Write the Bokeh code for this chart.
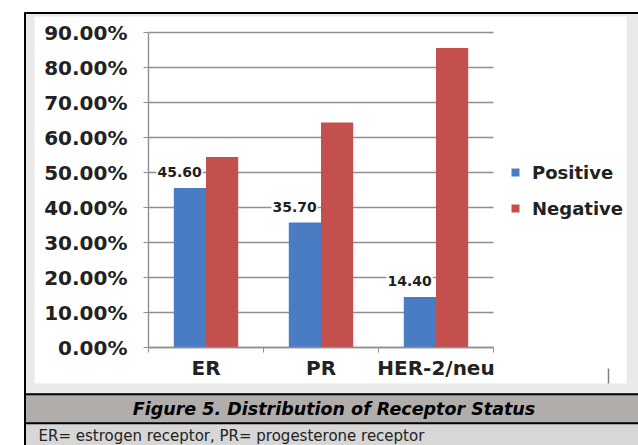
from bokeh.plotting import figure
from bokeh.models import (Range1d, FixedTicker, PrintfTickFormatter, LinearAxis,
                          Label, Legend, LegendItem, ColumnDataSource)
from bokeh.transform import dodge
from bokeh.core.properties import value
from bokeh.embed import file_html
from bokeh.resources import INLINE

# ---- data ----
categories = ["ER", "PR", "HER-2/neu"]
positive = [45.6, 35.7, 14.4]
negative = [54.4, 64.3, 85.6]
positive_labels = ["45.60", "35.70", "14.40"]
series_names = ["Positive", "Negative"]
y_ticks = [0, 10, 20, 30, 40, 50, 60, 70, 80, 90]
caption_text = "Figure 5. Distribution of Receptor Status"
footnote_text = "ER= estrogen receptor, PR= progesterone receptor"

# ---- layout (pixels, top-left origin) ----
W, H = 638, 445
PL, PR_, PT, PB = 148, 493, 32, 347      # plot area edges
Y_MAX = 90
N = len(categories)

FONT = "DejaVu Sans"
BLUE = "#4a7cc4"
RED = "#c4504d"
GRID = "#8f8f8f"

p = figure(width=W, height=H, output_backend="svg", toolbar_location=None, title=None,
           x_range=Range1d(0, W), y_range=Range1d(H, 0),
           x_axis_location=None, y_axis_location=None,
           min_border=0, min_border_left=0, min_border_right=0,
           min_border_top=0, min_border_bottom=0,
           background_fill_color="white", border_fill_color="white",
           outline_line_color=None)
p.grid.visible = False

# chart ranges mapped onto the plot area
px_per_cat = (PR_ - PL) / N
cs = -PL / px_per_cat
px_per_pct = (PB - PT) / Y_MAX
ps = -(H - PB) / px_per_pct
p.extra_x_ranges = {"cat": Range1d(cs, cs + W / px_per_cat)}
p.extra_y_ranges = {"pct": Range1d(ps, ps + H / px_per_pct)}

# ---- decorations (page frame) ----
MARGIN = "#e9e9e9"
deco = dict(
    left=[24, 24, 626, 24, 24, 24],
    right=[W, 34, W, W, W, W],
    top=[12, 12, 12, 383, 394, 423],
    bottom=[16, 394, 394, 394, 423, H],
    color=[MARGIN, MARGIN, MARGIN, MARGIN, "#b1adab", "#d7d7d7"],
)
p.quad(left="left", right="right", top="top", bottom="bottom", color="color",
       source=ColumnDataSource(deco), line_color=None)
lines = dict(
    left=[24, 23.5, 24, 24],
    right=[W, 25.5, W, W],
    top=[11.5, 12, 392.8, 421.8],
    bottom=[13.5, H, 394.8, 423.8],
)
p.quad(left="left", right="right", top="top", bottom="bottom",
       source=ColumnDataSource(lines), color="black", line_color=None)
p.segment(x0=[608], x1=[608], y0=[368], y1=[383], line_color="#808080", line_width=1.5)

# ---- gridlines ----
p.segment(x0=0, x1=N, y0=y_ticks, y1=y_ticks, x_range_name="cat", y_range_name="pct",
          line_color=GRID, line_width=1.4)

# ---- bars ----
xc = [i + 0.5 for i in range(N)]
src = ColumnDataSource(dict(x=xc, pos=positive, neg=negative, lbl=positive_labels))
r_pos = p.vbar(x=dodge("x", -0.14), top="pos", bottom=0, width=0.28, source=src,
               fill_color=BLUE, line_color=None, x_range_name="cat", y_range_name="pct")
r_neg = p.vbar(x=dodge("x", 0.14), top="neg", bottom=0, width=0.28, source=src,
               fill_color=RED, line_color=None, x_range_name="cat", y_range_name="pct")

p.text(x=dodge("x", -0.23), y="pos", text="lbl", source=src,
       x_range_name="cat", y_range_name="pct",
       y_offset=-16, text_align="center", text_baseline="middle",
       text_font=value(FONT), text_font_style="bold", text_font_size="14px",
       text_color="#1e1e1e", background_fill_color="white", padding=1)

# ---- axes ----
xa = LinearAxis(x_range_name="cat", y_range_name="pct", fixed_location=0, bounds=(0, N),
                ticker=FixedTicker(ticks=xc, minor_ticks=list(range(N + 1))))
xa.major_label_overrides = {x: c for x, c in zip(xc, categories)}
xa.major_tick_line_color = None
xa.major_tick_in = 0
xa.major_tick_out = 0
xa.minor_tick_in = 0
xa.minor_tick_out = 5
xa.minor_tick_line_color = GRID
xa.axis_line_color = GRID
xa.axis_line_width = 1.4
xa.major_label_standoff = 3
xa.major_label_text_font = FONT
xa.major_label_text_font_style = "bold"
xa.major_label_text_font_size = "20px"
xa.major_label_text_color = "#222222"
p.add_layout(xa, "below")

ya = LinearAxis(x_range_name="cat", y_range_name="pct", fixed_location=0, bounds=(0, Y_MAX),
                ticker=FixedTicker(ticks=y_ticks),
                formatter=PrintfTickFormatter(format="%.2f%%"))
ya.major_tick_in = 0
ya.major_tick_out = 5
ya.minor_tick_line_color = None
ya.major_tick_line_color = GRID
ya.axis_line_color = GRID
ya.axis_line_width = 1.4
ya.major_label_standoff = 16
ya.major_label_text_font = FONT
ya.major_label_text_font_style = "bold"
ya.major_label_text_font_size = "20px"
ya.major_label_text_color = "#222222"
p.add_layout(ya, "left")

# ---- legend ----
legend = Legend(items=[LegendItem(label=series_names[0], renderers=[r_pos]),
                       LegendItem(label=series_names[1], renderers=[r_neg])],
                location=(510, H - 219), orientation="vertical",
                glyph_width=10, glyph_height=10, label_standoff=12,
                label_height=22, spacing=14, padding=0, margin=0,
                border_line_color=None, background_fill_alpha=0,
                label_text_font=FONT, label_text_font_style="bold",
                label_text_font_size="18px", label_text_color="#222222")
p.add_layout(legend)

# ---- caption and footnote ----
p.add_layout(Label(x=333.5, y=408.5, text=caption_text, text_align="center",
                   text_baseline="middle", text_font=FONT, text_font_style="bold italic",
                   text_font_size="17.5px", text_color="black"))
p.add_layout(Label(x=38, y=435.5, text=footnote_text, text_align="left",
                   text_baseline="middle", text_font=FONT, text_font_size="15px",
                   text_color="#222222"))

open("out.html", "w").write(file_html(p, INLINE))
